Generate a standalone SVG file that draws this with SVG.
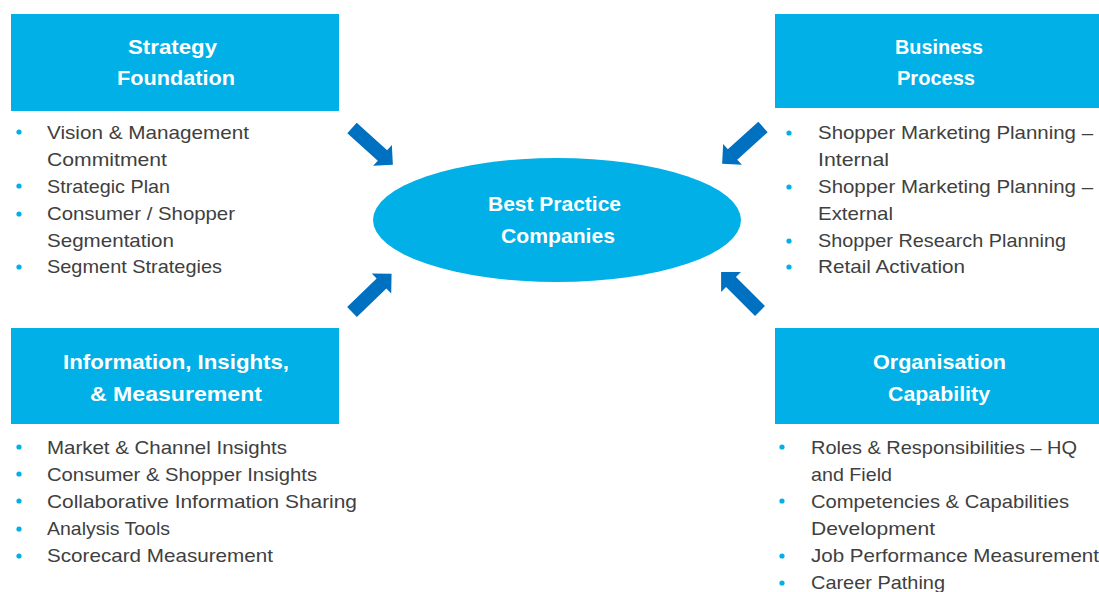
<svg xmlns="http://www.w3.org/2000/svg" width="1099" height="592" viewBox="0 0 1099 592">
<style>
.box{fill:#00B0E6}
.hd{font-family:"Liberation Sans",Arial,sans-serif;font-weight:bold;font-size:21px;fill:#ffffff}
.it{font-family:"Liberation Sans",Arial,sans-serif;font-size:19px;fill:#404040}
.bl{fill:#00B0E6}
.arr{fill:#0070C0}
</style>
<defs>
<path id="ar" d="M0,-7 L41,-7 L41,-14 L55,0 L41,14 L41,7 L0,7 Z"/>
</defs>
<rect width="1099" height="592" fill="#ffffff"/>
<g id="center">
<ellipse class="box" cx="557" cy="220" rx="184" ry="62"/>
<text class="hd" x="488" y="211" textLength="133" lengthAdjust="spacingAndGlyphs">Best Practice</text>
<text class="hd" x="501" y="243" textLength="114" lengthAdjust="spacingAndGlyphs">Companies</text>
</g>
<g id="strategy">
<rect class="box" x="11" y="14" width="328" height="97"/>
<text class="hd" x="128" y="54" textLength="89" lengthAdjust="spacingAndGlyphs">Strategy</text>
<text class="hd" x="117" y="85" textLength="118" lengthAdjust="spacingAndGlyphs">Foundation</text>
<g class="bl"><circle cx="19" cy="132" r="2.6"/><circle cx="19" cy="186" r="2.6"/><circle cx="19" cy="214" r="2.6"/><circle cx="19" cy="267" r="2.6"/></g>
<text class="it" x="47" y="139" textLength="202" lengthAdjust="spacingAndGlyphs">Vision &amp; Management</text>
<text class="it" x="47" y="166" textLength="120" lengthAdjust="spacingAndGlyphs">Commitment</text>
<text class="it" x="47" y="193" textLength="123" lengthAdjust="spacingAndGlyphs">Strategic Plan</text>
<text class="it" x="47" y="220" textLength="188" lengthAdjust="spacingAndGlyphs">Consumer / Shopper</text>
<text class="it" x="47" y="247" textLength="127" lengthAdjust="spacingAndGlyphs">Segmentation</text>
<text class="it" x="47" y="273" textLength="175" lengthAdjust="spacingAndGlyphs">Segment Strategies</text>
</g>
<g id="business">
<rect class="box" x="775" y="14" width="324" height="94"/>
<text class="hd" x="895" y="54" textLength="88" lengthAdjust="spacingAndGlyphs">Business</text>
<text class="hd" x="897" y="85" textLength="78" lengthAdjust="spacingAndGlyphs">Process</text>
<g class="bl"><circle cx="789" cy="133" r="2.6"/><circle cx="789" cy="187" r="2.6"/><circle cx="789" cy="241" r="2.6"/><circle cx="789" cy="267" r="2.6"/></g>
<text class="it" x="818" y="139" textLength="275" lengthAdjust="spacingAndGlyphs">Shopper Marketing Planning –</text>
<text class="it" x="818" y="166" textLength="71" lengthAdjust="spacingAndGlyphs">Internal</text>
<text class="it" x="818" y="193" textLength="275" lengthAdjust="spacingAndGlyphs">Shopper Marketing Planning –</text>
<text class="it" x="818" y="220" textLength="75" lengthAdjust="spacingAndGlyphs">External</text>
<text class="it" x="818" y="247" textLength="248" lengthAdjust="spacingAndGlyphs">Shopper Research Planning</text>
<text class="it" x="818" y="273" textLength="147" lengthAdjust="spacingAndGlyphs">Retail Activation</text>
</g>
<g id="information">
<rect class="box" x="11" y="328" width="328" height="96"/>
<text class="hd" x="63" y="369" textLength="226" lengthAdjust="spacingAndGlyphs">Information, Insights,</text>
<text class="hd" x="90" y="401" textLength="172" lengthAdjust="spacingAndGlyphs">&amp; Measurement</text>
<g class="bl"><circle cx="19" cy="447" r="2.6"/><circle cx="19" cy="474" r="2.6"/><circle cx="19" cy="501" r="2.6"/><circle cx="19" cy="529" r="2.6"/><circle cx="19" cy="556" r="2.6"/></g>
<text class="it" x="47" y="454" textLength="240" lengthAdjust="spacingAndGlyphs">Market &amp; Channel Insights</text>
<text class="it" x="47" y="481" textLength="270" lengthAdjust="spacingAndGlyphs">Consumer &amp; Shopper Insights</text>
<text class="it" x="47" y="508" textLength="310" lengthAdjust="spacingAndGlyphs">Collaborative Information Sharing</text>
<text class="it" x="47" y="535" textLength="123" lengthAdjust="spacingAndGlyphs">Analysis Tools</text>
<text class="it" x="47" y="562" textLength="226" lengthAdjust="spacingAndGlyphs">Scorecard Measurement</text>
</g>
<g id="organisation">
<rect class="box" x="775" y="328" width="324" height="96"/>
<text class="hd" x="873" y="369" textLength="133" lengthAdjust="spacingAndGlyphs">Organisation</text>
<text class="hd" x="888" y="401" textLength="102" lengthAdjust="spacingAndGlyphs">Capability</text>
<g class="bl"><circle cx="782" cy="447" r="2.6"/><circle cx="782" cy="501" r="2.6"/><circle cx="782" cy="556" r="2.6"/><circle cx="782" cy="583" r="2.6"/></g>
<text class="it" x="811" y="454" textLength="266" lengthAdjust="spacingAndGlyphs">Roles &amp; Responsibilities  – HQ</text>
<text class="it" x="811" y="481" textLength="81" lengthAdjust="spacingAndGlyphs">and Field</text>
<text class="it" x="811" y="508" textLength="258" lengthAdjust="spacingAndGlyphs">Competencies &amp; Capabilities</text>
<text class="it" x="811" y="535" textLength="124" lengthAdjust="spacingAndGlyphs">Development</text>
<text class="it" x="811" y="562" textLength="288" lengthAdjust="spacingAndGlyphs">Job Performance Measurement</text>
<text class="it" x="811" y="589" textLength="134" lengthAdjust="spacingAndGlyphs">Career Pathing</text>
</g>
<g id="connectors" class="arr">
<use href="#ar" transform="translate(352,128) rotate(42)"/>
<use href="#ar" transform="translate(352,312) rotate(-44)"/>
<use href="#ar" transform="translate(763,127) rotate(138)"/>
<use href="#ar" transform="translate(760,311) rotate(225)"/>
</g>
</svg>
